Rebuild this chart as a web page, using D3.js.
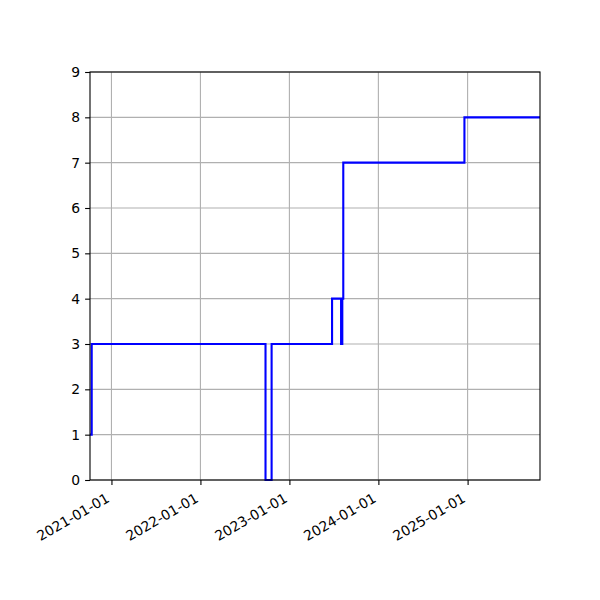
<!DOCTYPE html>
<html>
<head>
<meta charset="utf-8">
<script src="https://cdn.jsdelivr.net/npm/d3@7"></script>
<style>
  body { margin: 0; background: #fff; }
  svg { font-family: "DejaVu Sans", sans-serif; }
</style>
</head>
<body>
<div id="chart"></div>
<script>
// step data (value holds until next date)
const stepDates = ["2020-10-05", "2020-10-12", "2022-09-25", "2022-10-20", "2023-06-25",
                   "2023-08-01", "2023-08-06", "2023-08-10", "2024-12-19", "2025-10-25"];
const stepValues = [1, 3, 0, 3, 4, 3, 4, 7, 8, 8];
const xTickLabels = ["2021-01-01", "2022-01-01", "2023-01-01", "2024-01-01", "2025-01-01"];
const yTicks = [0, 1, 2, 3, 4, 5, 6, 7, 8, 9];

const parse = d3.timeParse("%Y-%m-%d");
const data = stepDates.map((d, i) => ({ date: parse(d), value: stepValues[i] }));

const width = 600, height = 600;
const margin = { top: 72, right: 60, bottom: 120, left: 90 };
const fontSize = 13.9;

const svg = d3.select("#chart").append("svg")
    .attr("width", width)
    .attr("height", height);

const x = d3.scaleTime()
    .domain(d3.extent(data, d => d.date))
    .range([margin.left, width - margin.right]);

const y = d3.scaleLinear()
    .domain([0, 9])
    .range([height - margin.bottom, margin.top]);

const xTicks = xTickLabels.map(parse);

// grid
svg.append("g")
    .selectAll("line")
    .data(xTicks)
    .join("line")
    .attr("x1", d => x(d)).attr("x2", d => x(d))
    .attr("y1", margin.top).attr("y2", height - margin.bottom)
    .attr("stroke", "#b0b0b0")
    .attr("stroke-width", 1.1);

svg.append("g")
    .selectAll("line")
    .data(yTicks)
    .join("line")
    .attr("x1", margin.left).attr("x2", width - margin.right)
    .attr("y1", d => y(d)).attr("y2", d => y(d))
    .attr("stroke", "#b0b0b0")
    .attr("stroke-width", 1.1);

// step line
const line = d3.line()
    .x(d => x(d.date))
    .y(d => y(d.value))
    .curve(d3.curveStepAfter);

svg.append("path")
    .datum(data)
    .attr("fill", "none")
    .attr("stroke", "blue")
    .attr("stroke-width", 2.1)
    .attr("d", line);

// axes
const xAxis = svg.append("g")
    .attr("transform", `translate(0,${height - margin.bottom})`)
    .call(d3.axisBottom(x)
        .tickValues(xTicks)
        .tickFormat(d3.timeFormat("%Y-%m-%d"))
        .tickSize(4.9));

xAxis.select(".domain").remove();
xAxis.selectAll("line").attr("stroke", "#000").attr("stroke-width", 1.1);
xAxis.selectAll("text")
    .attr("font-size", fontSize)
    .attr("font-family", "DejaVu Sans")
    .attr("fill", "#000")
    .attr("text-anchor", "end")
    .attr("x", 0)
    .attr("y", 0)
    .attr("dy", null)
    .attr("transform", "translate(-1.6,21) rotate(-30)");

const yAxis = svg.append("g")
    .attr("transform", `translate(${margin.left},0)`)
    .call(d3.axisLeft(y)
        .tickValues(yTicks)
        .tickFormat(d3.format("d"))
        .tickSize(4.9)
        .tickPadding(4.9));

yAxis.select(".domain").remove();
yAxis.selectAll("line").attr("stroke", "#000").attr("stroke-width", 1.1);
yAxis.selectAll("text")
    .attr("font-size", fontSize)
    .attr("font-family", "DejaVu Sans")
    .attr("fill", "#000");

// spines on top
svg.append("rect")
    .attr("x", margin.left)
    .attr("y", margin.top)
    .attr("width", width - margin.left - margin.right)
    .attr("height", height - margin.top - margin.bottom)
    .attr("fill", "none")
    .attr("stroke", "#000")
    .attr("stroke-width", 1.1);
</script>
</body>
</html>
